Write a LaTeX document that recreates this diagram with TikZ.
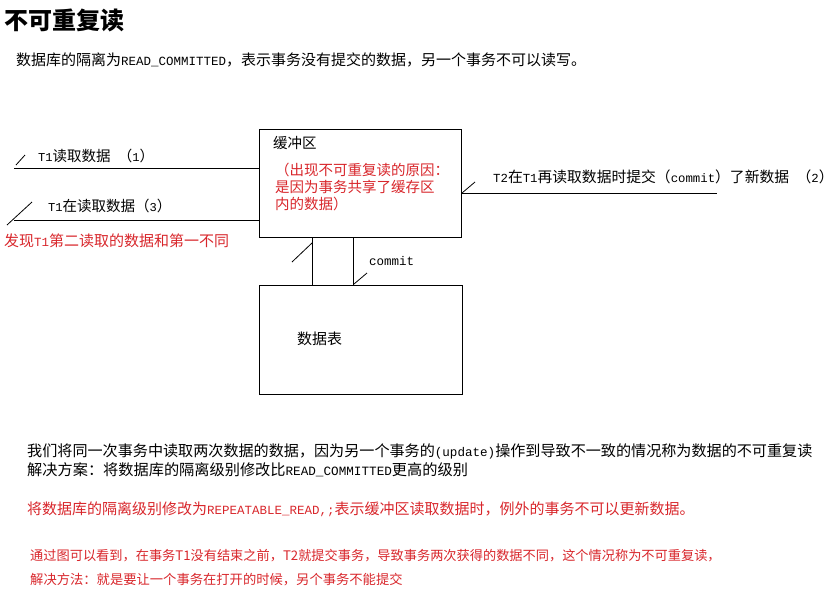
\documentclass[tikz,border=0pt]{standalone}
\usepackage{fontspec}
\setmainfont{Noto Sans CJK SC}
\setmonofont{Liberation Mono}[Scale=0.833]
\usepackage{xcolor}
\definecolor{cRed}{HTML}{D8262B}
\usepackage{tikz}
\tikzset{
  box/.style  = {rectangle, draw, line width=1pt, inner sep=0pt,
                 anchor=north west},
  lbl/.style  = {inner sep=0pt, anchor=west,
                 font=\fontsize{#1}{#1}\selectfont},
  lbl/.default = 14.5,
  wire/.style = {line width=1pt},
  tick/.style = {line width=0.8pt},
}
\newcommand\en[1]{\texttt{#1}}

\begin{document}
\begin{tikzpicture}[x=1pt, y=-1pt]
  \useasboundingbox (0,0) rectangle (838,592);

  \node[lbl=24] (ttl) at (4,20) {\bfseries 不可重复读};
  \node[lbl=15] (intro) at (16,60)
        {数据库的隔离为\en{READ\_COMMITTED}，表示事务没有提交的数据，另一个事务不可以读写。};

  % buffer and table
  \node[box, minimum width=202pt, minimum height=108pt] (buf) at (259,129) {};
  \node[box, minimum width=203pt, minimum height=109pt] (tbl) at (259,285) {};

  \node[lbl] (bufname) at (273,143) {缓冲区};
  \node[lbl, text=cRed] (why1) at (275,170) {（出现不可重复读的原因：};
  \node[lbl, text=cRed] (why2) at (275,187) {是因为事务共享了缓存区};
  \node[lbl, text=cRed] (why3) at (275,204) {内的数据）};
  \node[lbl=15] (tblname) at (297,339) {数据表};

  % reads and commit
  \coordinate (r1) at (14,168);
  \coordinate (r3) at (14,220);
  \coordinate (r2) at (717,193);
  \draw[wire] (r1) -- (r1 -| buf.west);
  \draw[wire] (r3) -- (r3 -| buf.west);
  \draw[wire] (r2 -| buf.east) -- (r2);
  \draw[wire] ([xshift=53pt]buf.south west) -- ([xshift=53pt]tbl.north west);
  \draw[wire] ([xshift=94pt]buf.south west) -- ([xshift=94pt]tbl.north west);

  \draw[tick] ([shift={(2,-3)}]r1) -- ++(9,-10);
  \draw[tick] ([shift={(-7,5)}]r3) -- ++(25,-23);
  \draw[tick] (r2 -| buf.east) -- ++(13,-11);
  \draw[tick] ([xshift=53pt, yshift=-5pt]buf.south west) -- ++(-20,19);
  \draw[tick] ([xshift=95pt, yshift=1pt]tbl.north west) -- ++(13,-11);

  \node[lbl] (rd1) at (38,156) {\en{T1}读取数据\hspace{0.5em}（\en{1}）};
  \node[lbl] (rd3) at (48,206) {\en{T1}在读取数据（\en{3}）};
  \node[lbl=15, text=cRed] (diff) at (4,241) {发现\en{T1}第二读取的数据和第一不同};
  \node[lbl=14.8] (wr2) at (493,177)
        {\en{T2}在\en{T1}再读取数据时提交（\en{commit}）了新数据\hspace{0.5em}（\en{2}）};
  \node[lbl=15] (cmt) at (369,261) {\en{commit}};

  % notes
  \node[lbl=15.1] (sum) at (27,451)
        {我们将同一次事务中读取两次数据的数据，因为另一个事务的\en{(update)}操作到导致不一致的情况称为数据的不可重复读};
  \node[lbl=15.2] (fix) at (27,470)
        {解决方案：将数据库的隔离级别修改比\en{READ\_COMMITTED}更高的级别};
  \node[lbl=15, text=cRed] (rr) at (27,509)
        {将数据库的隔离级别修改为\en{REPEATABLE\_READ,;}表示缓冲区读取数据时，例外的事务不可以更新数据。};
  \node[lbl=13.2, text=cRed] (note1) at (30,556)
        {通过图可以看到，在事务T1没有结束之前，T2就提交事务，导致事务两次获得的数据不同，这个情况称为不可重复读，};
  \node[lbl=13.3, text=cRed] (note2) at (30,580)
        {解决方法：就是要让一个事务在打开的时候，另个事务不能提交};

\end{tikzpicture}
\end{document}
